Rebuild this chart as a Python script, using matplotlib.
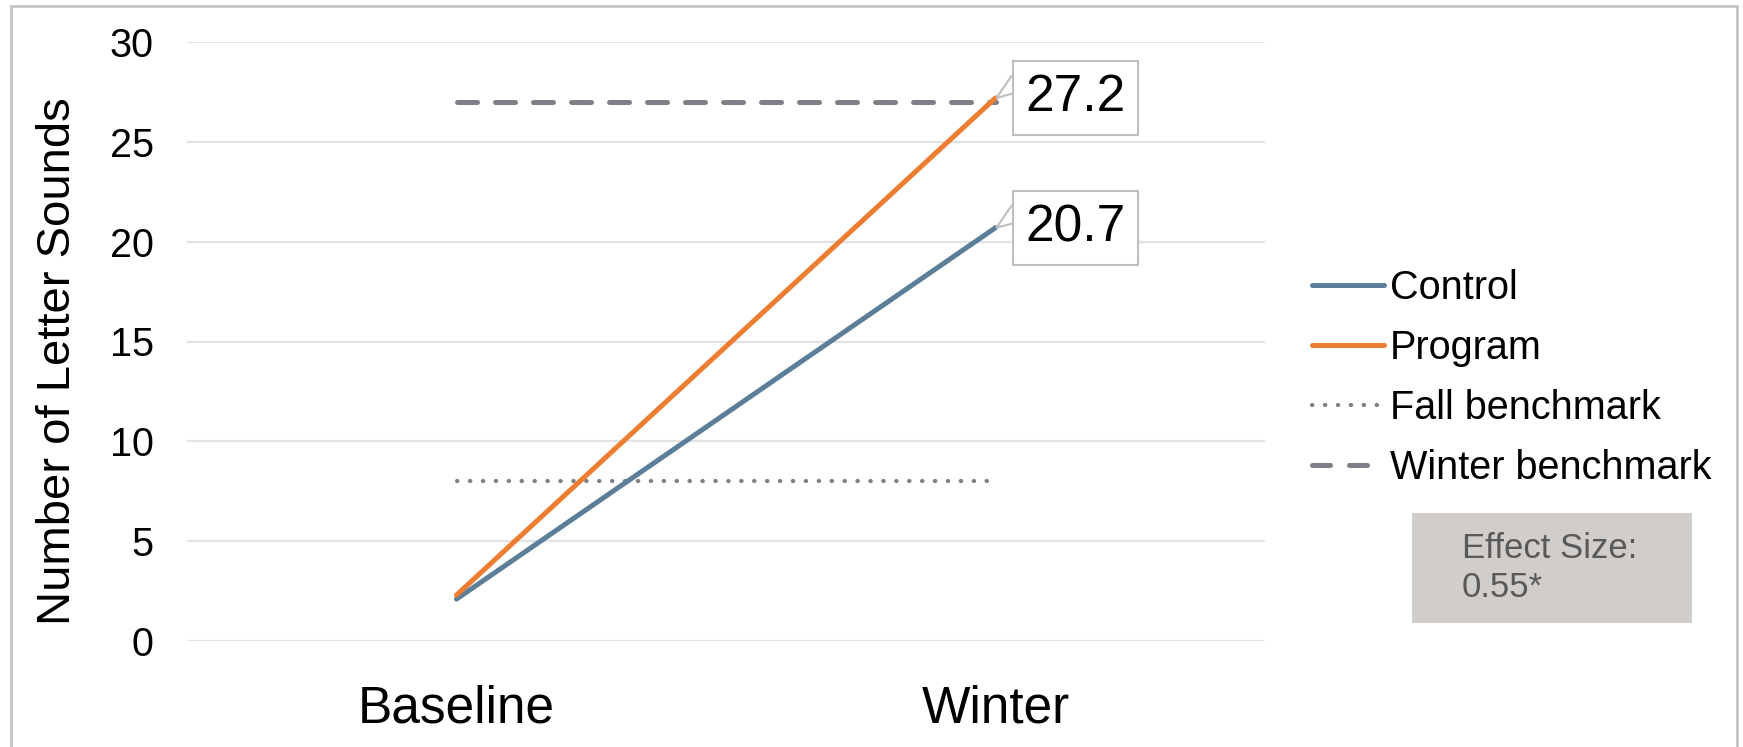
import matplotlib
matplotlib.use("Agg")
import matplotlib.pyplot as plt
from matplotlib.lines import Line2D
from matplotlib.patches import Rectangle

plt.rcParams['font.family'] = ['Liberation Sans', 'DejaVu Sans']

categories = ["Baseline", "Winter"]
control = [2.1, 20.7]
program = [2.3, 27.2]
fall_benchmark = [8, 8]
winter_benchmark = [27, 27]
y_ticks = [0, 5, 10, 15, 20, 25, 30]
effect_text = "Effect Size:\n0.55*"

W, H = 1743, 747
fig = plt.figure(figsize=(W / 100, H / 100), dpi=100)
ax = fig.add_axes([187 / W, 1 - 641 / H, (1265 - 187) / W, (641 - 42) / H])

c_control = "#5B7F99"
c_program = "#ED7D31"
c_bench = "#7F7F86"
LW = 3.6
DOT_LW = 3.0
dot_ls = (0, (0.1, 3.0))
dash_ls = (0, (4.0, 3.6))

x = list(range(len(categories)))
ax.plot(x, fall_benchmark, color=c_bench, lw=DOT_LW, ls=dot_ls,
        dash_capstyle='round', zorder=3)
ax.plot(x, winter_benchmark, color=c_bench, lw=LW, ls=dash_ls,
        dash_capstyle='round', zorder=3)
ax.plot(x, control, color=c_control, lw=LW, solid_capstyle='round', zorder=4)
ax.plot(x, program, color=c_program, lw=LW, solid_capstyle='round', zorder=5)

ax.set_xlim(-0.5, 1.5)
ax.set_ylim(0, 30)
ax.set_yticks(y_ticks)
ax.set_yticklabels([str(t) for t in y_ticks], fontsize=28.5)
ax.set_xticks(x)
ax.set_xticklabels(categories, fontsize=37)
ax.tick_params(axis='y', length=0, pad=24)
ax.tick_params(axis='x', length=0, pad=31)
ax.grid(axis='y', color="#E3E3E3", lw=1.6)
ax.set_axisbelow(True)
for s in ax.spines.values():
    s.set_visible(False)
ax.set_ylabel("Number of Letter Sounds", fontsize=34)
ax.yaxis.set_label_coords(-0.099, 0.467)

# data labels with callouts
inv = fig.transFigure.inverted()
for series in (control, program):
    xv, yv = x[-1], series[-1]
    ax.annotate(f"{yv:.1f}", xy=(xv, yv), xytext=(30, 0), textcoords='offset pixels',
                ha='left', va='center', fontsize=37, zorder=7,
                bbox=dict(boxstyle='square,pad=0.24', fc='white', ec='#BFBFBF', lw=1.5))
    px, py = ax.transData.transform((xv, yv))
    pts = [(px + 16, py + 22), (px + 1, py), (px + 16, py + 4)]
    pts = [inv.transform(p) for p in pts]
    fig.add_artist(Line2D([p[0] for p in pts], [p[1] for p in pts],
                          color='#BFBFBF', lw=1.5, transform=fig.transFigure, zorder=8))

handles = [
    Line2D([], [], color=c_control, lw=LW, solid_capstyle='round'),
    Line2D([], [], color=c_program, lw=LW, solid_capstyle='round'),
    Line2D([], [], color=c_bench, lw=DOT_LW, ls=dot_ls, dash_capstyle='round'),
    Line2D([], [], color=c_bench, lw=LW, ls=(0, (3.6, 3.8)), dash_capstyle='round'),
]
labels = ["Control", "Program", "Fall benchmark", "Winter benchmark"]
fig.legend(handles, labels, loc='center left', bbox_to_anchor=(1312 / W, 1 - 378 / H),
           frameon=False, fontsize=28.5, handlelength=1.82, handletextpad=0.15,
           labelspacing=0.55, borderaxespad=0, borderpad=0)

# effect size box
fig.add_artist(Rectangle((1412 / W, 1 - 623 / H), (1692 - 1412) / W, (623 - 513) / H,
                         transform=fig.transFigure, fc="#D0CDCB", ec='none'))
fig.text(1462 / W, 1 - 568 / H, effect_text, fontsize=25, color="#595959",
         ha='left', va='center', linespacing=1.2)

# outer border
fig.add_artist(Rectangle((11 / W, -0.01), (1737 - 11) / W, 1 - 6 / H + 0.01,
                         transform=fig.transFigure, fc='none', ec='#C4C4C4', lw=2))

fig.savefig("out.png", dpi=100)
